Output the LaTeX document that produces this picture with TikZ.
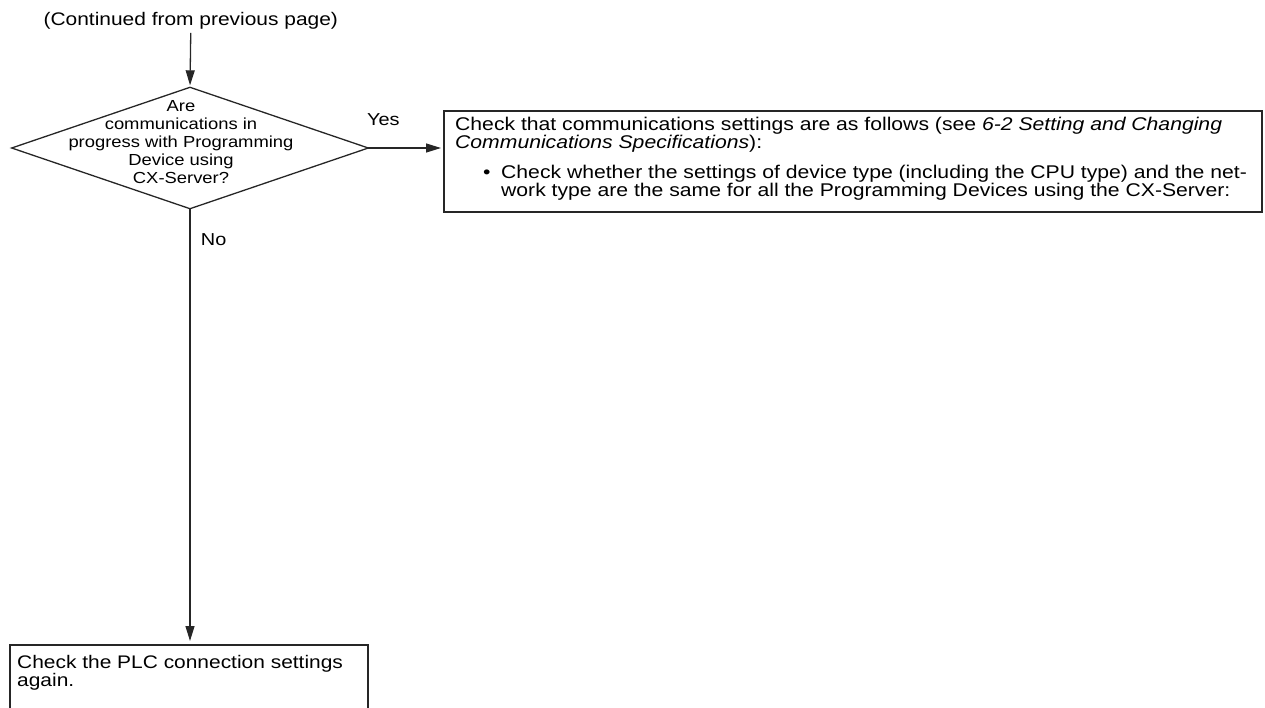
\documentclass[tikz,border=0pt]{standalone}
\usepackage{fontspec}
\setmainfont{Liberation Sans}[FakeStretch=1.15]
\usetikzlibrary{arrows.meta,shapes.geometric}
\begin{document}
\begin{tikzpicture}[x=1pt,y=-1pt,
  line/.style={line width=1.3pt, draw=black!85},
  flow/.style={line, -{Triangle[length=15pt,width=9pt]}},
  boxtext/.style={inner sep=0pt, align=left, font=\fontsize{18.4}{18.2}\selectfont},
  qtext/.style={inner sep=0pt, align=center, font=\fontsize{16}{17.8}\selectfont},
  lbl/.style={inner sep=0pt, font=\fontsize{17.3}{18}\selectfont},
  stepbox/.style={line, rectangle, inner sep=0pt, outer sep=0pt, anchor=north west},
]
\useasboundingbox (0,0) rectangle (1265,707);

% entry point
\node[inner sep=0pt, anchor=base, font=\fontsize{18.2}{18.2}\selectfont] (cont) at (190.8,25) {(Continued from previous page)};

% decision (text block anchored at the baseline of its last line)
\node[diamond, line, inner sep=0pt, outer sep=0pt, minimum width=356.6pt, minimum height=121.4pt] (q) at (190,148) {};
\node[qtext, anchor=base] (qt) at (181,183) {Are\\communications in\\progress with Programming\\Device using\\CX-Server?};

% "Yes" branch
\node[stepbox, minimum width=818pt, minimum height=101pt] (chk) at (444,111) {};
\node[boxtext, anchor=base west] (chkt) at (455,196.7) {Check that communications settings are as follows (see \textit{6-2 Setting and Changing}\\
\textit{Communications Specifications}):\\[11.6pt]
\hspace*{28pt}\makebox[18pt][l]{\textbullet}Check whether the settings of device type (including the CPU type) and the net-\\
\hspace*{46pt}work type are the same for all the Programming Devices using the CX-Server:};

% "No" branch (box continues on the next page)
\node[stepbox, minimum width=358pt, minimum height=100pt] (plc) at (10,645) {};
\node[boxtext, anchor=base west, font=\fontsize{18.2}{17.7}\selectfont] (plct) at (17,686) {Check the PLC connection settings\\again.};

% connectors
\draw[flow, shorten <=4pt, shorten >=2pt] (cont.south) -- (q.north);
\draw[flow, shorten >=3pt] (q.east) -- (q.east -| chk.west);
\draw[flow, shorten >=4pt] (q.south) -- (q.south |- plc.north);

\node[lbl, anchor=base west] (yes) at (367,125) {Yes};
\node[lbl, anchor=base west] (no) at (200.7,245) {No};
\end{tikzpicture}
\end{document}
